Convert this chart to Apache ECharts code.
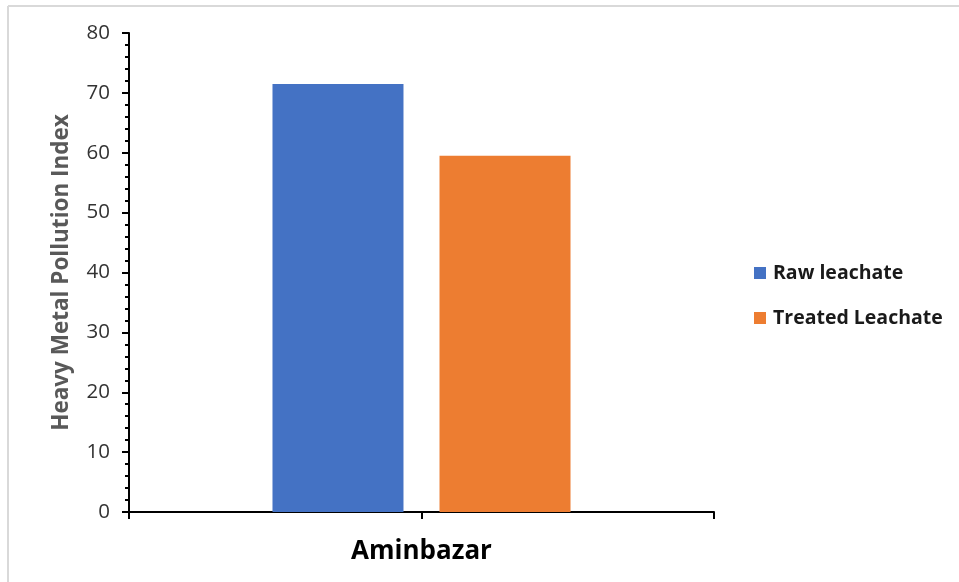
<!DOCTYPE html>
<html>
<head>
<meta charset="utf-8">
<script src="https://cdn.jsdelivr.net/npm/echarts@6/dist/echarts.min.js"></script>
<style>
  html, body { margin: 0; padding: 0; background: #fff; }
  #chart { width: 959px; height: 582px; }
</style>
</head>
<body>
<div id="chart"></div>
<script>
// Heavy metal pollution index for the Aminbazar site
const categories = ['Aminbazar'];
const rawLeachate = [71.5];
const treatedLeachate = [59.5];
const seriesNames = ['Raw leachate', 'Treated Leachate'];
const yAxisTitle = 'Heavy Metal Pollution Index';

const FONT = 'Open Sans';
const chart = echarts.init(document.getElementById('chart'), null, { renderer: 'canvas' });

chart.setOption({
  animation: false,
  backgroundColor: '#ffffff',
  grid: { left: 129, right: 245, top: 33, bottom: 70, containLabel: false },
  legend: {
    orient: 'vertical',
    left: 749,
    top: 258,
    padding: 5,
    itemWidth: 12,
    itemHeight: 12,
    itemGap: 25,
    icon: 'rect',
    textStyle: { fontFamily: FONT, fontSize: 19.5, fontWeight: 'bold', color: '#1a1a1a', padding: [0, 0, 0, 2] },
    data: seriesNames
  },
  xAxis: [
    {
      type: 'category',
      data: categories,
      boundaryGap: true,
      axisLine: { lineStyle: { color: '#000', width: 2 } },
      axisTick: { show: true, length: 7, lineStyle: { color: '#000', width: 2 } },
      axisLabel: { margin: 27, fontFamily: FONT, fontSize: 26, fontWeight: 'bold', color: '#000' }
    },
    {
      // centre tick under the category
      type: 'category',
      data: categories,
      position: 'bottom',
      axisLine: { show: false },
      axisTick: { show: true, alignWithLabel: true, length: 7, lineStyle: { color: '#000', width: 2 } },
      axisLabel: { show: false }
    }
  ],
  yAxis: {
    type: 'value',
    min: 0,
    max: 80,
    interval: 10,
    name: yAxisTitle,
    nameLocation: 'middle',
    nameGap: 56,
    nameTextStyle: { fontFamily: FONT, fontSize: 22.5, fontWeight: 'bold', color: '#595959' },
    axisLine: { show: true, lineStyle: { color: '#000', width: 2 } },
    axisTick: { show: true, length: 7, lineStyle: { color: '#000', width: 2 } },
    minorTick: { show: true, splitNumber: 5, length: 4, lineStyle: { color: '#000', width: 2 } },
    splitLine: { show: false },
    axisLabel: { margin: 19, fontFamily: FONT, fontSize: 20.5, color: '#333' }
  },
  series: [
    {
      name: seriesNames[0],
      type: 'bar',
      data: rawLeachate,
      barWidth: 131,
      barGap: '27.5%',
      itemStyle: { color: '#4472C4' }
    },
    {
      name: seriesNames[1],
      type: 'bar',
      data: treatedLeachate,
      barWidth: 131,
      barGap: '27.5%',
      itemStyle: { color: '#ED7D31' }
    }
  ],
  graphic: [
    { type: 'line', shape: { x1: 8, y1: 6, x2: 959, y2: 6 }, style: { stroke: '#d9d9d9', lineWidth: 2 } },
    { type: 'line', shape: { x1: 8, y1: 6, x2: 8, y2: 582 }, style: { stroke: '#d9d9d9', lineWidth: 2 } }
  ]
});
</script>
</body>
</html>
